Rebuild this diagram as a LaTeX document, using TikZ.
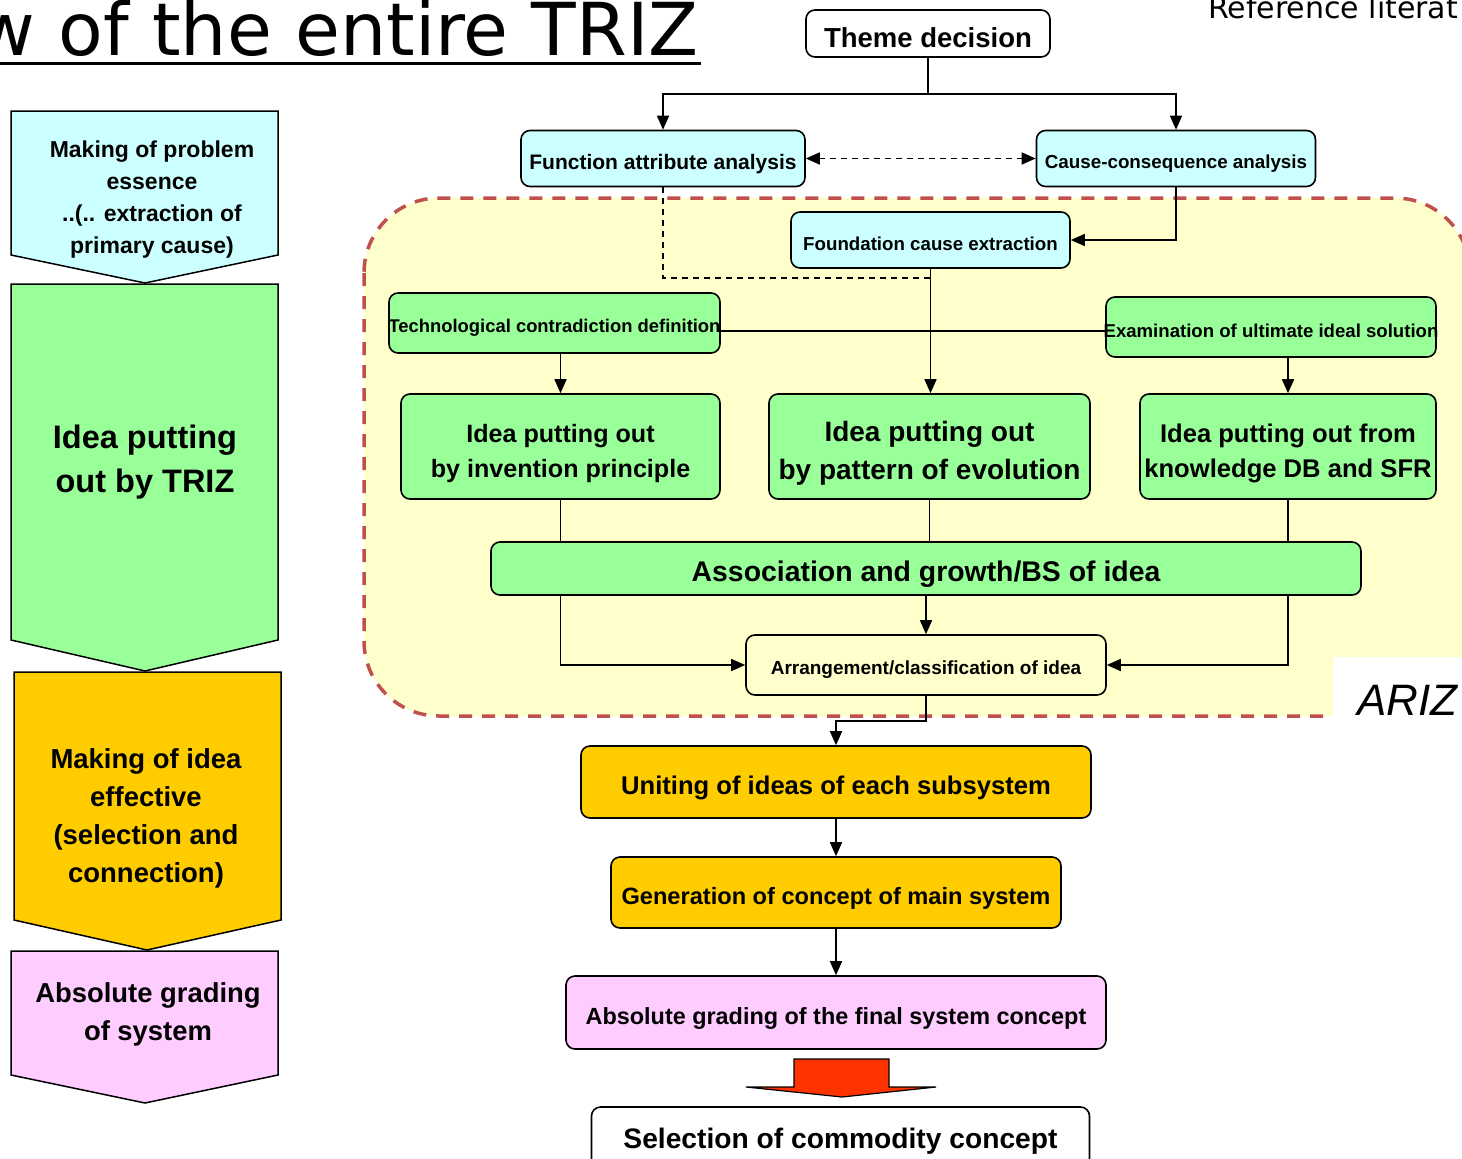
\documentclass[tikz,border=0pt]{standalone}
\usepackage{fontspec}
\setmainfont{Liberation Sans}
\newfontfamily\titlefont{DejaVu Sans}
\usetikzlibrary{arrows.meta}
\definecolor{cyanF}{HTML}{CCFFFF}
\definecolor{greenF}{HTML}{99FF99}
\definecolor{orangeF}{HTML}{FFCC00}
\definecolor{pinkF}{HTML}{FFCCFF}
\definecolor{yellowF}{HTML}{FFFFCC}
\definecolor{redB}{HTML}{C0504D}
\definecolor{redA}{HTML}{FF3300}
\tikzset{
  tsz/.style 2 args={font=\bfseries\fontsize{#1}{#2}\selectfont},
  box/.style={draw=black, line width=1.6pt, rounded corners=9pt, inner sep=0pt},
  txt/.style={inner sep=0pt, align=center},
  conn/.style={line width=1.6pt},
  arr/.style={conn, -{Triangle[length=14pt,width=12pt]}},
  dsh/.style={conn, dash pattern=on 6pt off 5pt},
  darr/.style={dsh, {Triangle[length=14pt,width=12pt]}-{Triangle[length=14pt,width=12pt]}},
  pent/.style={draw=black, line width=1.5pt}
}
\begin{document}
\begin{tikzpicture}[x=1pt,y=-1pt]
\useasboundingbox (0,0) rectangle (1462,1159);

% title and reference
\node[anchor=base east, inner sep=0pt, font=\titlefont\fontsize{73}{80}\selectfont] (title) at (699,55) {w of the entire TRIZ};
\draw[line width=3pt] (0,63) -- (701,63);
\node[anchor=base west, inner sep=0pt, font=\titlefont\fontsize{30}{36}\selectfont] (ref) at (1208,18) {Reference literat};

% ARIZ region
\draw[redB, fill=yellowF, line width=3.5pt, dash pattern=on 13pt off 10pt, rounded corners=75pt] (364,198) rectangle (1470,716);
\fill[white] (1333,657) rectangle (1475,745);
\node[anchor=base west, inner sep=0pt, font=\itshape\fontsize{44}{50}\selectfont] (ariz) at (1357,715) {ARIZ};

% left column
\draw[pent, fill=cyanF] (11,111) -- (278,111) -- (278,255) -- (145,283) -- (11,255) -- cycle;
\node[txt, tsz={23}{32}] (l1) at (152,200) {Making of problem\\essence\\..(.. extraction of\\primary cause)};
\draw[pent, fill=greenF] (11,284) -- (278,284) -- (278,640) -- (145,671) -- (11,640) -- cycle;
\node[txt, tsz={32.5}{44}] (l2) at (145,462) {Idea putting\\out by TRIZ};
\draw[pent, fill=orangeF] (14,672) -- (281,672) -- (281,920) -- (147,950) -- (14,920) -- cycle;
\node[txt, tsz={27.5}{38}] (l3) at (146,818) {Making of idea\\effective\\(selection and\\connection)};
\draw[pent, fill=pinkF] (11,951) -- (278,951) -- (278,1075) -- (145,1103) -- (11,1075) -- cycle;
\node[txt, tsz={27.4}{38}] (l4) at (148,1014) {Absolute grading\\of system};

% top boxes
\node[box, fill=white, minimum width=244pt, minimum height=47pt] (theme) at (928,33.5) {};
\node[txt, tsz={27.5}{32}, yshift=-4pt] (theme-t) at (theme.center) {Theme decision};
\node[box, fill=cyanF, minimum width=284pt, minimum height=56pt] (fa) at (663,158.5) {};
\node[txt, tsz={21}{25}, yshift=-6pt] (fa-t) at (fa.center) {Function attribute analysis};
\node[box, fill=cyanF, minimum width=279pt, minimum height=56pt] (cc) at (1176,158.5) {};
\node[txt, tsz={18.8}{22}, yshift=-5pt] (cc-t) at (cc.center) {Cause-consequence analysis};
\node[box, fill=cyanF, minimum width=279pt, minimum height=56pt] (fc) at (930.5,240) {};
\node[txt, tsz={18.7}{22}, yshift=-4pt] (fc-t) at (fc.center) {Foundation cause extraction};

% connectors
\coordinate (tj) at (928,94);
\coordinate (dj) at (930,278);
\coordinate (y331) at (0,331);
\coordinate (aj) at (926,721);
\draw[conn] (theme.south) -- (tj);
\draw[arr] (tj) -| (fa.north);
\draw[arr] (tj) -| (cc.north);
\draw[darr] (fa.east) -- (cc.west);
\draw[dsh] (fa.south) |- (dj);
\draw[arr] (cc.south) |- (fc.east);

\node[box, fill=greenF, minimum width=331pt, minimum height=60pt] (tc) at (554.5,323) {};
\node[txt, tsz={18.4}{22}, yshift=-5pt] (tc-t) at (tc.center) {Technological contradiction definition};
\node[box, fill=greenF, minimum width=330pt, minimum height=60pt] (ex) at (1271,327) {};
\node[txt, tsz={18.6}{22}, yshift=-4pt] (ex-t) at (ex.center) {Examination of ultimate ideal solution};
\draw[conn] (tc.east |- y331) -- (ex.west |- y331);

\node[box, fill=greenF, minimum width=319pt, minimum height=105pt] (ip1) at (560.5,446.5) {};
\node[txt, tsz={25.1}{35}, yshift=-7pt] (ip1-t) at (ip1.center) {Idea putting out\\by invention principle};
\node[box, fill=greenF, minimum width=321pt, minimum height=105pt] (ip2) at (929.5,446.5) {};
\node[txt, tsz={28}{38}, yshift=-7pt] (ip2-t) at (ip2.center) {Idea putting out\\by pattern of evolution};
\node[box, fill=greenF, minimum width=296pt, minimum height=105pt] (ip3) at (1288,446.5) {};
\node[txt, tsz={25.6}{35}, yshift=-7pt] (ip3-t) at (ip3.center) {Idea putting out from\\knowledge DB and SFR};

\draw[arr] (fc.south) -- (fc.south |- ip2.north);
\draw[arr] (ip1.north |- tc.south) -- (ip1.north);
\draw[arr] (ip3.north |- ex.south) -- (ip3.north);

\node[box, fill=yellowF, minimum width=360pt, minimum height=60pt] (ar) at (926,665) {};
\node[txt, tsz={19}{23}, yshift=-5pt] (ar-t) at (ar.center) {Arrangement/classification of idea};
\draw[arr] (ip1.south) |- (ar.west);
\draw[arr] (ip3.south) |- (ar.east);
\node[box, fill=greenF, minimum width=870pt, minimum height=53pt] (as) at (926,568.5) {};
\node[txt, tsz={28.4}{33}, yshift=-6pt] (as-t) at (as.center) {Association and growth/BS of idea};
\draw[conn] (ip2.south) -- (ip2.south |- as.north);
\draw[arr] (as.south) -- (ar.north);

\node[box, fill=orangeF, minimum width=510pt, minimum height=72pt] (un) at (836,782) {};
\node[txt, tsz={25.6}{30}, yshift=-6pt] (un-t) at (un.center) {Uniting of ideas of each subsystem};
\node[box, fill=orangeF, minimum width=450pt, minimum height=71pt] (ge) at (836,892.5) {};
\node[txt, tsz={23.6}{28}, yshift=-6pt] (ge-t) at (ge.center) {Generation of concept of main system};
\node[box, fill=pinkF, minimum width=540pt, minimum height=73pt] (ab) at (836,1012.5) {};
\node[txt, tsz={23.4}{28}, yshift=-6pt] (ab-t) at (ab.center) {Absolute grading of the final system concept};
\node[box, fill=white, minimum width=498pt, minimum height=66pt] (se) at (840.5,1140) {};
\node[txt, tsz={28.2}{33}, yshift=-1pt] (se-t) at (se.center) {Selection of commodity concept};

\draw[arr] (ar.south) -- (aj) -| (un.north);
\draw[arr] (un.south) -- (ge.north);
\draw[arr] (ge.south) -- (ab.north);

% red block arrow
\draw[fill=redA, draw=black, line width=1.2pt] (794,1059) -- (889,1059) -- (889,1087) -- (936,1087) -- (842,1097) -- (746,1087) -- (794,1087) -- cycle;
\end{tikzpicture}
\end{document}
